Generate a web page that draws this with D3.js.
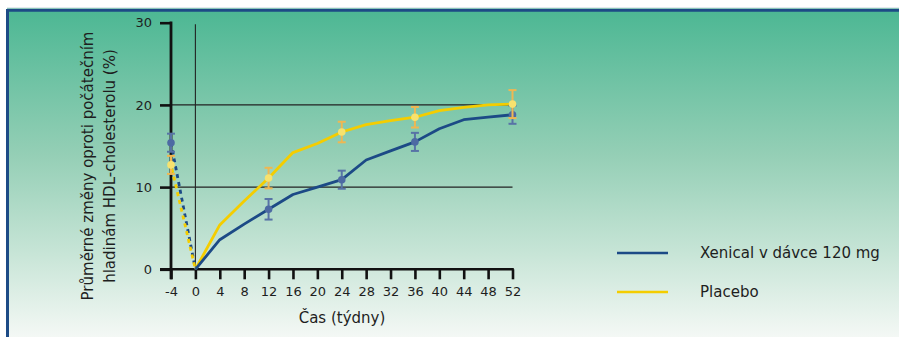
<!DOCTYPE html>
<html>
<head>
<meta charset="utf-8">
<script src="https://cdn.jsdelivr.net/npm/d3@7"></script>
<style>
  html, body { margin: 0; padding: 0; background: #ffffff; }
  svg { display: block; }
  text { font-family: "DejaVu Sans", Verdana, sans-serif; fill: #1e1e1e; }
</style>
</head>
<body>
<svg id="chart" width="899" height="337"></svg>
<script>
// Weeks of treatment and mean HDL-cholesterol change (%) per group
const weeks = [0, 4, 8, 12, 16, 20, 24, 28, 32, 36, 40, 44, 48, 52];
const xenical = [0, 3.6, 5.5, 7.3, 9.1, 10.0, 10.9, 13.3, 14.4, 15.5, 17.1, 18.2, 18.5, 18.8];
const placebo = [0, 5.4, 8.3, 11.1, 14.2, 15.3, 16.7, 17.6, 18.1, 18.5, 19.3, 19.7, 20.0, 20.1];

// Run-in period (week -4 to 0)
const runInWeeks = [-4, 0];
const xenicalRunIn = [15.4, 0];
const placeboRunIn = [12.7, 0];

// Measured points with standard error
const errWeeks = [-4, 12, 24, 36, 52];
const xenicalErrMean = [15.4, 7.3, 10.9, 15.5, 18.8];
const xenicalErr = [1.1, 1.25, 1.1, 1.1, 1.1];
const placeboErrMean = [12.7, 11.1, 16.7, 18.5, 20.1];
const placeboErr = [1.1, 1.25, 1.25, 1.25, 1.7];

const xTicks = [-4, 0, 4, 8, 12, 16, 20, 24, 28, 32, 36, 40, 44, 48, 52];
const yTicks = [0, 10, 20, 30];
const gridValues = [10, 20];

const seriesNames = ["Xenical v dávce 120 mg", "Placebo"];
const yTitleLines = ["Průměrné změny oproti počátečním", "hladinám HDL-cholesterolu (%)"];
const xTitle = "Čas (týdny)";

const C = {
  blue: "#1c4a86",
  yellow: "#f4cd00",
  blueErr: "#5873a6",
  yellowErr: "#efb752",
  blueDot: "#4d6aa3",
  yellowDot: "#f7e26e",
  frame: "#1d4b86"
};

const svg = d3.select("#chart");

// Panel background
const defs = svg.append("defs");
const grad = defs.append("linearGradient")
  .attr("id", "bg").attr("x1", 0).attr("y1", 0).attr("x2", 0).attr("y2", 1);
[["0%", "#4bb793"], ["45%", "#95cfb6"], ["75%", "#c8e5d7"], ["100%", "#f4f8f5"]]
  .forEach(([o, c]) => grad.append("stop").attr("offset", o).attr("stop-color", c));

svg.append("rect").attr("x", 7).attr("y", 8).attr("width", 892).attr("height", 329)
  .attr("fill", "url(#bg)");
svg.append("line").attr("x1", 7).attr("x2", 899).attr("y1", 8).attr("y2", 8)
  .attr("stroke", "#c9d3df").attr("stroke-width", 1);
svg.append("line").attr("x1", 6).attr("x2", 899).attr("y1", 10.3).attr("y2", 10.3)
  .attr("stroke", C.frame).attr("stroke-width", 2.8);
svg.append("line").attr("x1", 7.5).attr("x2", 7.5).attr("y1", 9).attr("y2", 337)
  .attr("stroke", C.frame).attr("stroke-width", 3);

// Scales
const x = d3.scaleLinear().domain([-4, 52]).range([171, 512.5]);
const y = d3.scaleLinear().domain([0, 30]).range([269.3, 22.7]);

// Reference lines at 10 and 20 %, and the week-0 marker
svg.append("g").selectAll("line").data(gridValues).join("line")
  .attr("x1", x(-4)).attr("x2", x(52))
  .attr("y1", d => y(d)).attr("y2", d => y(d))
  .attr("stroke", "#222").attr("stroke-width", 1.1);
svg.append("line").attr("x1", x(0)).attr("x2", x(0)).attr("y1", y(29.8)).attr("y2", y(0))
  .attr("stroke", "#222").attr("stroke-width", 1.1);

// Axes (plain hyphen for negative labels)
const fmt = d => String(d);
const xAxis = svg.append("g").attr("transform", `translate(0,${y(0)})`)
  .call(d3.axisBottom(x).tickValues(xTicks).tickFormat(fmt).tickSize(10).tickPadding(7).tickSizeOuter(0));
const yAxis = svg.append("g").attr("transform", `translate(${x(-4)},0)`)
  .call(d3.axisLeft(y).tickValues(yTicks).tickFormat(fmt).tickSize(11).tickPadding(8).tickSizeOuter(0));
[xAxis, yAxis].forEach(g => {
  g.select(".domain").remove();
  g.selectAll(".tick line").attr("stroke", "#111").attr("stroke-width", 2.6);
  g.selectAll(".tick text").style("font-size", "13px").attr("fill", "#1e1e1e");
});
// Axis lines
svg.append("line").attr("x1", x(-4) - 11).attr("x2", x(52) + 1.3)
  .attr("y1", y(0)).attr("y2", y(0)).attr("stroke", "#111").attr("stroke-width", 2.6);
svg.append("line").attr("x1", x(-4)).attr("x2", x(-4))
  .attr("y1", y(30) - 1.3).attr("y2", y(0) + 10)
  .attr("stroke", "#111").attr("stroke-width", 2.8);

// Axis titles
svg.append("text").attr("x", 342).attr("y", 323).attr("text-anchor", "middle")
  .style("font-size", "15px").text(xTitle);
const yt = svg.append("text").attr("transform", "translate(88,166) rotate(-90)")
  .attr("text-anchor", "middle").style("font-size", "15px");
yTitleLines.forEach((t, i) => yt.append("tspan").attr("x", 0).attr("dy", i === 0 ? "0.35em" : "1.45em").text(t));

// Run-in dashed segments
const line = d3.line();
const runIn = [[xenicalRunIn, C.blue, 0], [placeboRunIn, C.yellow, 4]];
runIn.forEach(([vals, col, off]) => {
  svg.append("path")
    .attr("d", line(runInWeeks.map((w, i) => [x(w), y(vals[i])])))
    .attr("fill", "none").attr("stroke", col).attr("stroke-width", 2.8)
    .attr("stroke-dasharray", "4,4").attr("stroke-dashoffset", off);
});

// Main series
[[placebo, C.yellow], [xenical, C.blue]].forEach(([vals, col]) => {
  svg.append("path")
    .attr("d", line(weeks.map((w, i) => [x(w), y(vals[i])])))
    .attr("fill", "none").attr("stroke", col).attr("stroke-width", 2.8)
    .attr("stroke-linejoin", "round");
});

// Error bars and markers
function errorBars(means, errs, barCol, dotCol) {
  const g = svg.append("g");
  errWeeks.forEach((w, i) => {
    const cx = x(w), lo = y(means[i] - errs[i]), hi = y(means[i] + errs[i]);
    g.append("line").attr("x1", cx).attr("x2", cx).attr("y1", lo).attr("y2", hi)
      .attr("stroke", barCol).attr("stroke-width", 2);
    [lo, hi].forEach(v => g.append("line").attr("x1", cx - 4).attr("x2", cx + 4)
      .attr("y1", v).attr("y2", v).attr("stroke", barCol).attr("stroke-width", 2));
    g.append("circle").attr("cx", cx).attr("cy", y(means[i])).attr("r", 3.8).attr("fill", dotCol);
  });
}
errorBars(xenicalErrMean, xenicalErr, C.blueErr, C.blueDot);
errorBars(placeboErrMean, placeboErr, C.yellowErr, C.yellowDot);

// Legend
const legend = svg.append("g");
[[C.blue, 253], [C.yellow, 292]].forEach(([col, ly], i) => {
  legend.append("line").attr("x1", 617).attr("x2", 668).attr("y1", ly).attr("y2", ly)
    .attr("stroke", col).attr("stroke-width", 2.6);
  legend.append("text").attr("x", 700).attr("y", ly).attr("dy", "0.35em")
    .style("font-size", "15px").text(seriesNames[i]);
});
</script>
</body>
</html>
